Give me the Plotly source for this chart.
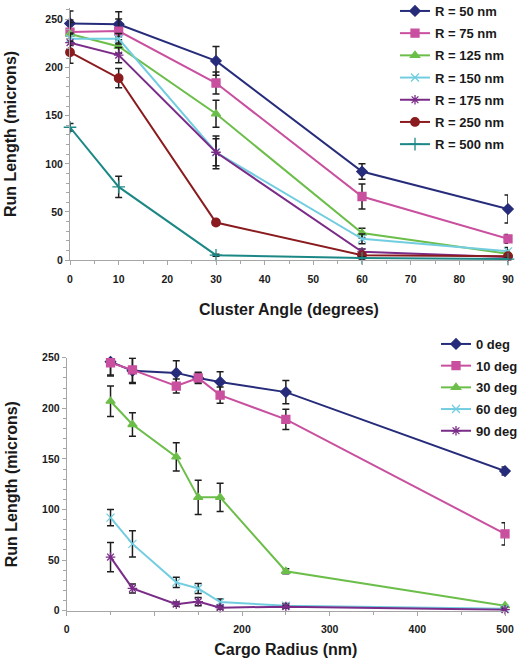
import plotly.graph_objects as go

# ---------------- data ----------------
angles = [0, 10, 30, 60, 90]                 # cluster angle (degrees)
radii = [50, 75, 125, 150, 175, 250, 500]    # cargo radius (nm)

run_r50 = [246, 245, 207, 92, 53]
run_r75 = [237, 238, 184, 66, 22]
run_r125 = [235, 222, 152, 28, 6.5]
run_r150 = [230, 230, 112, 22, 9]
run_r175 = [226, 213, 112, 8.5, 3]
run_r250 = [216, 189, 39, 5, 4]
run_r500 = [138, 76, 5, 2, 1]

err_r50 = [13, 13, 15, 8, 14.5]
err_r75 = [12.5, 12.5, 11.5, 13, 4.5]
err_r125 = [12, 7, 14, 5, 2]
err_r150 = [5, 5.5, 17, 5, 4]
err_r175 = [10, 8, 14, 3, 1.5]
err_r250 = [11.5, 10, 2.5, 2, 1.5]
err_r500 = [4, 11, 1, 1, 1]

radius_names = ["R = 50 nm", "R = 75 nm", "R = 125 nm", "R = 150 nm",
                "R = 175 nm", "R = 250 nm", "R = 500 nm"]
angle_names = ["0 deg", "10 deg", "30 deg", "60 deg", "90 deg"]

x_ticks_top = [0, 10, 20, 30, 40, 50, 60, 70, 80, 90]
x_ticks_bottom = [0, 100, 200, 300, 400, 500]
x_ticktext_bottom = ["0", "", "200", "300", "400", "500"]

runs = [run_r50, run_r75, run_r125, run_r150, run_r175, run_r250, run_r500]
errs = [err_r50, err_r75, err_r125, err_r150, err_r175, err_r250, err_r500]

# ---------------- styles ----------------
colors = ["#262C7A", "#C9509F", "#6CBE4A", "#72CDE0", "#7A2C88", "#8A1B1F", "#1C8886"]
symbols = ["diamond", "square", "triangle-up", "x-thin-open", "asterisk-open",
           "circle", "cross-thin-open"]
sizes = [8, 8, 8, 8, 8, 8.5, 9]

FONT = "Liberation Sans, Arial, sans-serif"
AXIS_GREY = "#A6A6A6"
ERR_COLOR = "#1E1E1E"

fig = go.Figure()

# top chart: run length vs cluster angle, one line per radius
for i, name in enumerate(radius_names):
    fig.add_trace(go.Scatter(
        x=angles, y=runs[i], name=name, mode="lines+markers",
        line=dict(color=colors[i], width=2),
        marker=dict(symbol=symbols[i], size=sizes[i], color=colors[i],
                    line=dict(color=colors[i], width=1.3)),
        error_y=dict(type="data", array=errs[i], visible=True,
                     color=ERR_COLOR, thickness=1.5, width=3.5),
        xaxis="x", yaxis="y", legend="legend", legendgroup="t" + name,
        cliponaxis=False,
    ))

# bottom chart: run length vs cargo radius, one line per angle
for j, name in enumerate(angle_names):
    fig.add_trace(go.Scatter(
        x=radii, y=[r[j] for r in runs], name=name, mode="lines+markers",
        line=dict(color=colors[j], width=2),
        marker=dict(symbol=symbols[j], size=sizes[j], color=colors[j],
                    line=dict(color=colors[j], width=1.3)),
        error_y=dict(type="data", array=[e[j] for e in errs], visible=True,
                     color=ERR_COLOR, thickness=1.5, width=3.5),
        xaxis="x2", yaxis="y2", legend="legend2", legendgroup="b" + name,
        cliponaxis=False,
    ))

W, H = 521, 661

def px_x(p):
    return p / W

def px_y(p):
    return 1 - p / H

tickfont = dict(family=FONT, size=10.5, color="#1a1a1a", weight="bold")
titlefont = dict(family=FONT, size=16, color="#1a1a1a", weight="bold")

common = dict(showgrid=False, zeroline=False, showline=True, linecolor=AXIS_GREY,
              linewidth=1, ticks="outside", ticklen=4, tickcolor=AXIS_GREY,
              tickfont=tickfont, automargin=False)

fig.update_layout(
    width=W, height=H,
    margin=dict(l=0, r=0, t=0, b=0, autoexpand=False),
    paper_bgcolor="white", plot_bgcolor="white",
    font=dict(family=FONT),
    showlegend=True,
    xaxis=dict(domain=[px_x(70), px_x(508)], range=[0, 90],
               tickvals=x_ticks_top, ticklabelstandoff=5,
               minor=dict(dtick=5, ticks="outside", ticklen=3, tickcolor=AXIS_GREY),
               title=dict(text="Cluster Angle (degrees)", font=titlefont, standoff=20),
               anchor="y", **common),
    yaxis=dict(domain=[px_y(260), px_y(8)], range=[0, 262], dtick=50, tick0=0,
               minor=dict(dtick=10, ticks="outside", ticklen=3, tickcolor=AXIS_GREY),
               title=dict(text="Run Length (microns)", font=titlefont, standoff=24),
               anchor="x", **common),
    xaxis2=dict(domain=[px_x(66.7), px_x(505)], range=[0, 500],
                tickvals=x_ticks_bottom, ticktext=x_ticktext_bottom, ticklabelstandoff=5,
                minor=dict(dtick=50, ticks="outside", ticklen=3, tickcolor=AXIS_GREY),
                title=dict(text="Cargo Radius (nm)", font=titlefont, standoff=9),
                anchor="y2", **common),
    yaxis2=dict(domain=[px_y(610.7), px_y(357.7)], range=[0, 250], dtick=50, tick0=0,
                minor=dict(dtick=10, ticks="outside", ticklen=3, tickcolor=AXIS_GREY),
                title=dict(text="Run Length (microns)", font=titlefont, standoff=20),
                anchor="x2", **common),
    legend=dict(x=px_x(395), y=px_y(-4), xanchor="left", yanchor="top",
                bgcolor="rgba(0,0,0,0)", tracegroupgap=2.3, itemwidth=30,
                font=dict(family=FONT, size=13, color="#1a1a1a", weight="bold")),
    legend2=dict(x=px_x(436), y=px_y(329), xanchor="left", yanchor="top",
                 bgcolor="rgba(0,0,0,0)", tracegroupgap=1.8, itemwidth=30,
                 font=dict(family=FONT, size=13, color="#1a1a1a", weight="bold")),
)

fig.write_html("out.html", config={"displayModeBar": False},
               post_script="document.body.style.margin='0';")
